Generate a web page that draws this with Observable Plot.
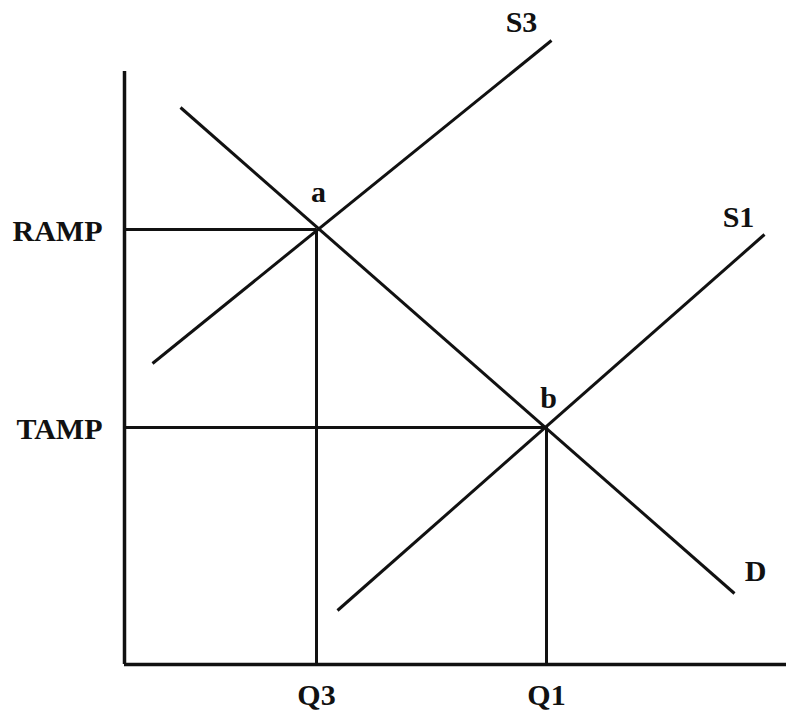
<!DOCTYPE html>
<html>
<head>
<meta charset="utf-8">
<script src="https://cdn.jsdelivr.net/npm/d3@7"></script>
<script src="https://cdn.jsdelivr.net/npm/@observablehq/plot@0.6"></script>
<style>
  html, body { margin: 0; padding: 0; background: #fff; }
</style>
</head>
<body>
<div id="chart"></div>
<script>
// Quantities (x) and prices (y) in arbitrary units
const curveNames = ["D", "S3", "S1"];
const curveX1 = [5.6, 2.8, 21.3];
const curveY1 = [55.7, 30.1, 5.4];
const curveX2 = [61.0, 42.7, 64.0];
const curveY2 = [7.1, 62.4, 43.0];

const pointNames = ["a", "b"];
const pointQ = [19.2, 42.2];   // Q3, Q1
const pointP = [43.5, 23.7];   // RAMP, TAMP

const xTickValues = [19.2, 42.2];
const xTickLabels = ["Q3", "Q1"];
const yTickValues = [43.5, 23.7];
const yTickLabels = ["RAMP", "TAMP"];

const curves = curveNames.map((name, i) => ({name, x1: curveX1[i], y1: curveY1[i], x2: curveX2[i], y2: curveY2[i]}));
const points = pointNames.map((name, i) => ({name, q: pointQ[i], p: pointP[i]}));

const labelOffsets = {D: [21, -22], S3: [-30, -18], S1: [-26, -17]};
const pointOffsets = {a: [2, -37], b: [2, -29]};

const font = "'Liberation Serif', 'Times New Roman', serif";
const FS = 30;

const chart = Plot.plot({
  width: 786,
  height: 715,
  marginLeft: 124,
  marginRight: 0,
  marginTop: 71,
  marginBottom: 51,
  x: {domain: [0, 66.2], axis: null},
  y: {domain: [0, 59.3], axis: null},
  style: {fontFamily: font, fontWeight: "bold", background: "#fff", color: "#111"},
  marks: [
    // axes lines
    Plot.ruleX([0], {stroke: "#111", strokeWidth: 3.5}),
    Plot.ruleY([0], {stroke: "#111", strokeWidth: 3.5}),
    // guide lines
    Plot.ruleY(points, {y: "p", x1: 0, x2: "q", stroke: "#111", strokeWidth: 3}),
    Plot.ruleX(points, {x: "q", y1: 0, y2: "p", stroke: "#111", strokeWidth: 3}),
    // curves
    Plot.link(curves, {x1: "x1", y1: "y1", x2: "x2", y2: "y2", stroke: "#111", strokeWidth: 3}),
    // curve labels
    ...curves.map(c => Plot.text([c], {
      x: "x2", y: "y2", text: "name",
      dx: labelOffsets[c.name][0], dy: labelOffsets[c.name][1],
      fontSize: FS, fontWeight: "bold", fill: "#111"
    })),
    // point labels
    ...points.map(p => Plot.text([p], {
      x: "q", y: "p", text: "name",
      dx: pointOffsets[p.name][0], dy: pointOffsets[p.name][1],
      fontSize: FS, fontWeight: "bold", fill: "#111"
    })),
    // axis tick labels
    Plot.axisX({
      ticks: xTickValues,
      tickFormat: (d) => xTickLabels[xTickValues.indexOf(d)],
      tickSize: 0, tickPadding: 19, fontSize: FS, fontWeight: "bold", label: null
    }),
    Plot.axisY({
      ticks: yTickValues,
      tickFormat: (d) => yTickLabels[yTickValues.indexOf(d)],
      tickSize: 0, tickPadding: 22, dy: 2, fontSize: FS, fontWeight: "bold", label: null
    })
  ]
});
document.getElementById("chart").appendChild(chart);
</script>
</body>
</html>
